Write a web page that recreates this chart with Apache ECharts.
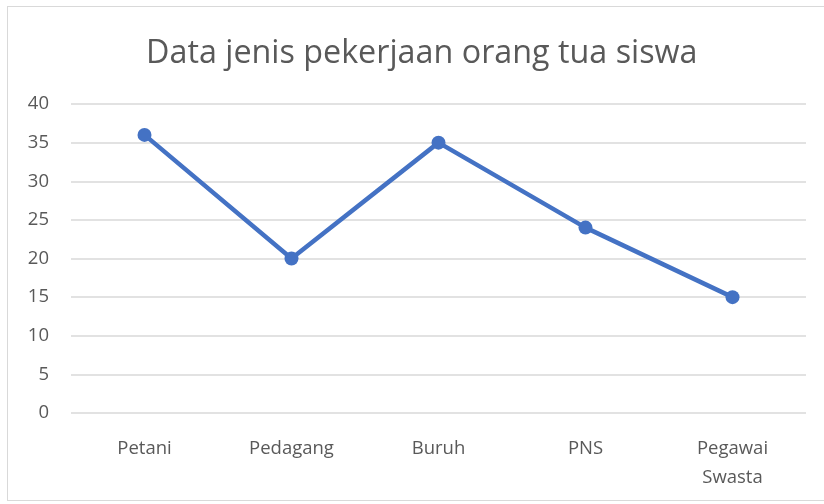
<!DOCTYPE html>
<html>
<head>
<meta charset="utf-8">
<script src="https://cdn.jsdelivr.net/npm/echarts@6/dist/echarts.min.js"></script>
<style>
  html, body { margin: 0; padding: 0; background: #fff; }
  #frame { position: absolute; left: 7px; top: 6px; width: 830px; height: 493px; border: 1px solid #d9d9d9; }
  #main { position: absolute; left: 0; top: 0; width: 824px; height: 504px; }
</style>
</head>
<body>
<div id="frame"></div>
<div id="main"></div>
<script>
  var categories = ['Petani', 'Pedagang', 'Buruh', 'PNS', 'Pegawai\nSwasta'];
  var values = [36, 20, 35, 24, 15];

  var chart = echarts.init(document.getElementById('main'));
  var option = {
    animation: false,
    title: {
      text: 'Data jenis pekerjaan orang tua siswa',
      left: 141,
      top: 33,
      textStyle: {
        color: '#595959',
        fontFamily: 'Open Sans',
        fontWeight: 'normal',
        fontSize: 32.3
      }
    },
    grid: { left: 71, right: 18, top: 104, bottom: 91 },
    xAxis: {
      type: 'category',
      data: categories,
      axisLine: { show: false },
      axisTick: { show: false },
      axisLabel: {
        color: '#595959',
        fontFamily: 'Open Sans',
        fontSize: 18.5,
        margin: 21,
        lineHeight: 29
      }
    },
    yAxis: {
      type: 'value',
      min: 0,
      max: 40,
      interval: 5,
      axisLine: { show: false },
      axisTick: { show: false },
      splitLine: { lineStyle: { color: '#d9d9d9', width: 1.5 } },
      axisLabel: {
        color: '#595959',
        fontFamily: 'Open Sans',
        fontSize: 18.5,
        margin: 22
      }
    },
    series: [{
      type: 'line',
      data: values,
      symbol: 'circle',
      symbolSize: 14,
      lineStyle: { color: '#4472C4', width: 4.5 },
      itemStyle: { color: '#4472C4' }
    }]
  };
  chart.setOption(option);
</script>
</body>
</html>
